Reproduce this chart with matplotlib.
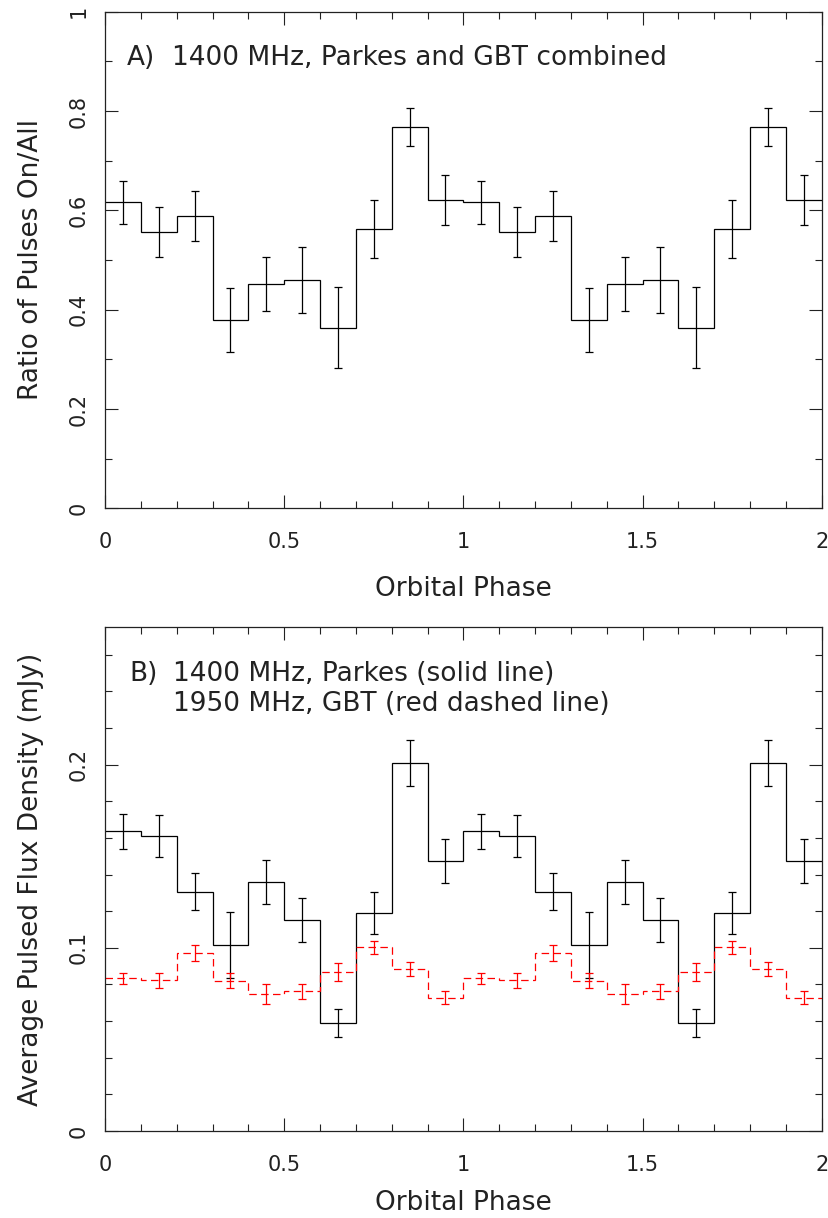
import numpy as np
import matplotlib
matplotlib.use("Agg")
import matplotlib.pyplot as plt
from matplotlib.ticker import MultipleLocator, FuncFormatter

# ---- data (one orbit, repeated for phase 0-2) ----
phase_edges = np.linspace(0.0, 2.0, 21)

ratio_on = [0.616, 0.556, 0.589, 0.379, 0.452, 0.460, 0.364, 0.562, 0.768, 0.621]
ratio_err = [0.043, 0.050, 0.050, 0.065, 0.055, 0.067, 0.081, 0.058, 0.038, 0.050]

parkes_flux = [0.1636, 0.1611, 0.1307, 0.1018, 0.1358, 0.1151, 0.0591, 0.1191, 0.2011, 0.1473]
parkes_err = [0.0095, 0.0115, 0.0100, 0.0180, 0.0120, 0.0120, 0.0077, 0.0114, 0.0126, 0.0121]

gbt_flux = [0.0833, 0.0822, 0.0973, 0.0820, 0.0747, 0.0762, 0.0867, 0.1002, 0.0885, 0.0727]
gbt_err = [0.0032, 0.0042, 0.0045, 0.0042, 0.0055, 0.0040, 0.0049, 0.0035, 0.0037, 0.0036]

label_a = "1400 MHz, Parkes and GBT combined"
label_b1 = "1400 MHz, Parkes (solid line)"
label_b2 = "1950 MHz, GBT (red dashed line)"

# ---- figure ----
W, H = 829, 1218
fig = plt.figure(figsize=(W / 100, H / 100), dpi=100)
plt.rcParams['font.family'] = ['DejaVu Sans']
TXT = '#222222'

def px_axes(l, t, r, b):
    return fig.add_axes([l / W, 1 - b / H, (r - l) / W, (b - t) / H])

ax1 = px_axes(105, 11.7, 821.7, 508.3)
ax2 = px_axes(105, 627.3, 821.7, 1131.0)

centers = 0.5 * (phase_edges[:-1] + phase_edges[1:])
lw = 0.9

def fmt(v, pos):
    return f"{v:.10g}"

def style(ax, xmaj, xmin, ymaj, ymin):
    ax.set_xlim(0, 2)
    ax.xaxis.set_major_locator(MultipleLocator(xmaj))
    ax.xaxis.set_minor_locator(MultipleLocator(xmin))
    ax.yaxis.set_major_locator(MultipleLocator(ymaj))
    ax.yaxis.set_minor_locator(MultipleLocator(ymin))
    ax.xaxis.set_major_formatter(FuncFormatter(fmt))
    ax.yaxis.set_major_formatter(FuncFormatter(fmt))
    ax.tick_params(which='both', direction='in', top=True, right=True, width=0.8, color=TXT)
    ax.tick_params(which='major', length=9.4)
    ax.tick_params(which='minor', length=5)
    ax.tick_params(axis='x', which='major', labelsize=15, pad=17, labelcolor=TXT)
    ax.tick_params(axis='y', which='major', labelsize=15, pad=12, labelrotation=90, labelcolor=TXT)
    for lab in ax.get_yticklabels():
        lab.set_va('center')
    for sp in ax.spines.values():
        sp.set_linewidth(0.9)
        sp.set_color(TXT)

def labels(ax, ylab, xlab_y):
    ax.set_ylabel(ylab, fontsize=19, color=TXT, va='center')
    ax.yaxis.set_label_coords(-0.103, 0.5)
    ax.set_xlabel("Orbital Phase", fontsize=19, color=TXT, va='center')
    ax.xaxis.set_label_coords(0.5, xlab_y)

# ---- panel A ----
ax1.stairs(np.tile(ratio_on, 2), phase_edges, color='black', lw=lw, baseline=None)
ax1.errorbar(centers, np.tile(ratio_on, 2), yerr=np.tile(ratio_err, 2), fmt='none',
             ecolor='black', elinewidth=lw, capsize=3.2, capthick=lw)
ax1.set_ylim(0, 1)
style(ax1, 0.5, 0.1, 0.2, 0.1)
labels(ax1, "Ratio of Pulses On/All", -0.1625)
ax1.text(0.0606, 0.893, "A)", fontsize=19, va='baseline', ha='left', color=TXT)
ax1.text(0.186, 0.893, label_a, fontsize=19, va='baseline', ha='left', color=TXT)

# ---- panel B ----
ax2.stairs(np.tile(parkes_flux, 2), phase_edges, color='black', lw=lw, baseline=None)
ax2.errorbar(centers, np.tile(parkes_flux, 2), yerr=np.tile(parkes_err, 2), fmt='none',
             ecolor='black', elinewidth=lw, capsize=3.2, capthick=lw)
ax2.stairs(np.tile(gbt_flux, 2), phase_edges, color='red', lw=lw, baseline=None,
           linestyle=(0, (6, 3.5)))
ax2.errorbar(centers, np.tile(gbt_flux, 2), yerr=np.tile(gbt_err, 2), fmt='none',
             ecolor='red', elinewidth=lw, capsize=3.2, capthick=lw)
ax2.set_ylim(0, 0.275)
style(ax2, 0.5, 0.1, 0.1, 0.02)
labels(ax2, "Average Pulsed Flux Density (mJy)", -0.143)
ax2.text(0.0678, 0.2455, "B)", fontsize=19, va='baseline', ha='left', color=TXT)
ax2.text(0.1906, 0.2455, label_b1, fontsize=19, va='baseline', ha='left', color=TXT)
ax2.text(0.1906, 0.2295, label_b2, fontsize=19, va='baseline', ha='left', color=TXT)

fig.savefig("out.png", dpi=100)
